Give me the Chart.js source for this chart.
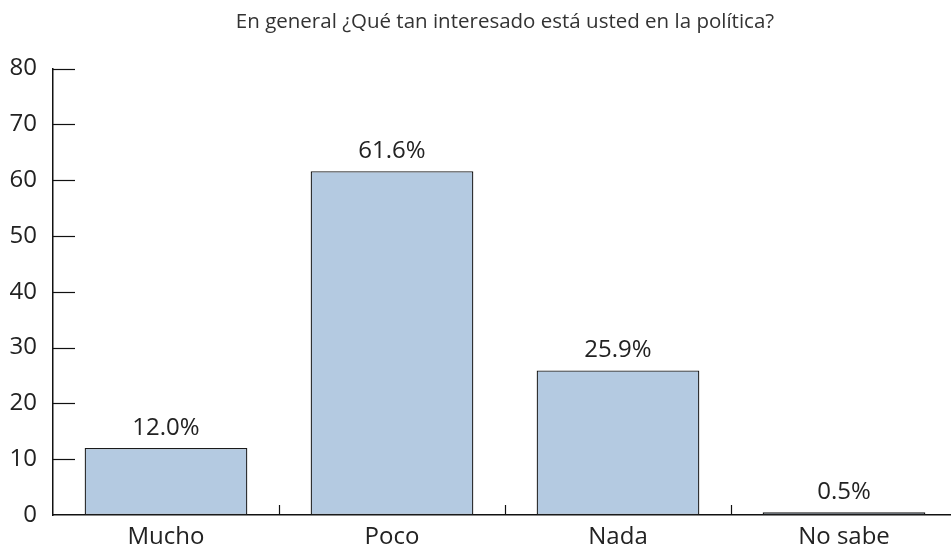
<!DOCTYPE html>
<html>
<head>
<meta charset="utf-8">
<script src="https://cdn.jsdelivr.net/npm/chart.js@4.4.0/dist/chart.umd.min.js"></script>
<style>
  html, body { margin: 0; padding: 0; background: #fff; overflow: hidden; }
  #wrap { width: 957px; height: 551px; }
</style>
</head>
<body>
<div id="wrap"><canvas id="myCanvas"></canvas></div>
<script>
var categories = ["Mucho", "Poco", "Nada", "No sabe"];
var values = [12.0, 61.6, 25.9, 0.5];
var valueLabels = ["12.0%", "61.6%", "25.9%", "0.5%"];
var yTicks = [0, 10, 20, 30, 40, 50, 60, 70, 80];
var title = "En general ¿Qué tan interesado está usted en la política?";

var FONT = "'Open Sans', 'Noto Sans', sans-serif";
var INK = "#222";

// short tick marks pointing into the plot, plus the value labels
var marks = {
  id: "marks",
  afterDatasetsDraw: function(chart) {
    var ctx = chart.ctx;
    var x = chart.scales.x, y = chart.scales.y;
    var area = chart.chartArea;
    ctx.save();
    ctx.strokeStyle = "#111";
    ctx.lineWidth = 1.2;
    yTicks.forEach(function(v){
      if (v === 0) return;
      var py = Math.round(y.getPixelForValue(v)) + 0.5;
      ctx.beginPath();
      ctx.moveTo(area.left, py);
      ctx.lineTo(area.left + 22, py);
      ctx.stroke();
    });
    for (var i = 1; i < categories.length; i++) {
      var px = Math.round((x.getPixelForValue(i - 1) + x.getPixelForValue(i)) / 2) + 0.5;
      ctx.beginPath();
      ctx.moveTo(px, area.bottom);
      ctx.lineTo(px, area.bottom - 10);
      ctx.stroke();
    }
    ctx.fillStyle = INK;
    ctx.font = "24px " + FONT;
    ctx.textAlign = "center";
    ctx.textBaseline = "alphabetic";
    chart.getDatasetMeta(0).data.forEach(function(bar, i){
      ctx.fillText(valueLabels[i], bar.x, bar.y - 13);
    });
    ctx.restore();
  }
};

var myChart = document.getElementById("myCanvas").getContext('2d');
var chart = new Chart(myChart, {
  type: "bar",
  data: {
    labels: categories,
    datasets: [{
      data: values,
      backgroundColor: "#b4cae1",
      borderColor: "#1a1a1a",
      borderWidth: 1.3,
      borderSkipped: false,
      categoryPercentage: 0.72,
      barPercentage: 1
    }]
  },
  options: {
    responsive: true,
    maintainAspectRatio: false,
    animation: false,
    layout: { padding: 0 },
    plugins: {
      legend: { display: false },
      tooltip: { enabled: false },
      title: {
        display: true,
        fullSize: false,
        text: title,
        color: "#333",
        font: { family: FONT, size: 20.5, weight: "normal" },
        padding: { top: 10, bottom: 34 }
      }
    },
    scales: {
      x: {
        grid: { display: false, drawTicks: false },
        border: { color: "#111", width: 1.5 },
        ticks: { color: INK, font: { family: FONT, size: 24 }, padding: 8 },
        afterFit: function(s){ s.height = 36; }
      },
      y: {
        min: 0, max: 80,
        grid: { display: false, drawTicks: false },
        border: { color: "#111", width: 1.5 },
        ticks: { stepSize: 10, color: INK, font: { family: FONT, size: 24 }, padding: 16 },
        afterFit: function(s){ s.width = 53; }
      }
    }
  },
  plugins: [marks]
});
</script>
</body>
</html>
